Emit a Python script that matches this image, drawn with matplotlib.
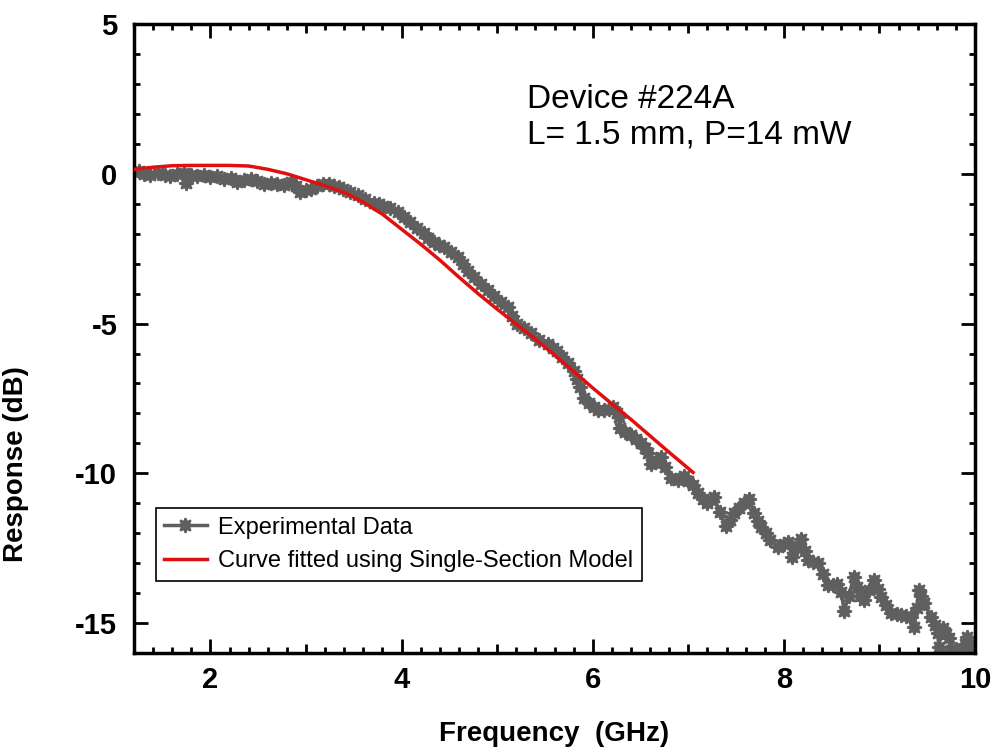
import matplotlib
matplotlib.use("Agg")
import matplotlib.pyplot as plt
from matplotlib.ticker import MultipleLocator, FuncFormatter

plt.rcParams['font.family'] = ['Liberation Sans', 'DejaVu Sans']
plt.rcParams['axes.unicode_minus'] = False

freq_exp = [1.20, 1.25, 1.30, 1.37, 1.45, 1.52, 1.58, 1.65, 1.72, 1.74, 1.80, 1.86,
            1.93, 2.00, 2.07, 2.14, 2.21, 2.28, 2.35, 2.42, 2.49, 2.56, 2.63, 2.70,
            2.77, 2.84, 2.90, 2.94, 3.00, 3.05, 3.12, 3.18, 3.24, 3.29, 3.34, 3.39,
            3.46, 3.54, 3.62, 3.71, 3.76, 3.81, 3.88, 3.96, 4.02, 4.09, 4.16, 4.23,
            4.28, 4.34, 4.39, 4.44, 4.52, 4.59, 4.64, 4.69, 4.76, 4.83, 4.90, 4.97,
            5.04, 5.11, 5.16, 5.21, 5.28, 5.35, 5.44, 5.53, 5.58, 5.63, 5.68, 5.74,
            5.80, 5.84, 5.87, 5.91, 5.96, 6.01, 6.06, 6.12, 6.17, 6.21, 6.25, 6.27,
            6.29, 6.34, 6.40, 6.45, 6.50, 6.55, 6.58, 6.61, 6.66, 6.71, 6.76, 6.82,
            6.89, 6.95, 7.00, 7.05, 7.10, 7.15, 7.20, 7.24, 7.27, 7.33, 7.39, 7.44,
            7.48, 7.53, 7.58, 7.64, 7.69, 7.73, 7.76, 7.81, 7.86, 7.94, 8.00, 8.04,
            8.09, 8.14, 8.18, 8.22, 8.25, 8.31, 8.36, 8.41, 8.46, 8.51, 8.56, 8.60,
            8.63, 8.68, 8.73, 8.77, 8.80, 8.84, 8.89, 8.94, 8.98, 9.02, 9.07, 9.12,
            9.18, 9.23, 9.28, 9.33, 9.36, 9.39, 9.41, 9.44, 9.47, 9.54, 9.58, 9.61,
            9.62, 9.66, 9.70, 9.73, 9.75, 9.80, 9.85, 9.89, 9.92, 9.95, 9.98]
resp_exp = [0.05, 0.10, 0.00, -0.03, 0.02, -0.05, -0.07, -0.02, 0.02, -0.30, -0.05, -0.07,
            -0.05, -0.12, -0.08, -0.18, -0.15, -0.29, -0.22, -0.18, -0.25, -0.34, -0.30, -0.34,
            -0.36, -0.29, -0.40, -0.62, -0.55, -0.50, -0.40, -0.34, -0.33, -0.40, -0.45, -0.50,
            -0.60, -0.70, -0.85, -0.96, -1.02, -1.07, -1.15, -1.29, -1.45, -1.62, -1.80, -1.96,
            -2.15, -2.29, -2.38, -2.46, -2.62, -2.79, -3.02, -3.23, -3.45, -3.67, -3.87, -4.07,
            -4.27, -4.46, -4.75, -5.00, -5.15, -5.33, -5.55, -5.67, -5.80, -5.90, -6.10, -6.33,
            -6.57, -6.85, -7.12, -7.50, -7.65, -7.79, -7.88, -7.90, -7.85, -7.79, -8.00, -8.12,
            -8.50, -8.62, -8.73, -8.85, -9.00, -9.15, -9.33, -9.70, -9.60, -9.46, -9.80, -10.15,
            -10.23, -10.10, -10.25, -10.40, -10.65, -10.85, -11.00, -10.88, -10.80, -11.30, -11.75, -11.55,
            -11.34, -11.15, -11.00, -10.85, -11.34, -11.60, -11.79, -12.00, -12.23, -12.46, -12.35, -12.29,
            -12.79, -12.50, -12.18, -12.60, -12.90, -12.95, -13.00, -13.35, -13.73, -13.72, -13.68, -13.95,
            -14.60, -14.10, -13.46, -13.80, -14.10, -14.23, -13.90, -13.57, -13.85, -14.12, -14.40, -14.68,
            -14.70, -14.73, -14.76, -14.79, -15.12, -14.50, -13.90, -14.10, -14.34, -14.79, -15.05, -15.34,
            -15.79, -15.18, -15.35, -15.51, -15.90, -15.85, -15.90, -15.70, -15.46, -15.70, -15.90]

# single-section model fit
freq_fit = [1.2, 1.4, 1.6, 1.8, 2.0, 2.2, 2.4, 2.6, 2.8, 3.0, 3.2, 3.4, 3.6, 3.8, 4.0,
            4.2, 4.4, 4.6, 4.8, 5.0, 5.2, 5.4, 5.6, 5.8, 6.0, 6.2, 6.4, 6.6, 6.8, 7.05]
resp_fit = [0.15, 0.22, 0.27, 0.28, 0.28, 0.28, 0.26, 0.15, 0.00, -0.20, -0.40, -0.62,
            -0.95, -1.35, -1.85, -2.35, -2.88, -3.45, -4.00, -4.52, -5.02, -5.52, -6.05,
            -6.60, -7.15, -7.68, -8.20, -8.75, -9.30, -9.97]

fig = plt.figure(figsize=(9.94, 7.56), dpi=100)
ax = fig.add_axes([0.1348, 0.1362, 0.8461, 0.832])

ax.plot(freq_exp, resp_exp, color='#5f5f5f', lw=2.5, marker=(8, 1, 0), ms=10.5,
        mew=1.5, label='Experimental Data', zorder=2)
ax.plot(freq_fit, resp_fit, color='#e01010', lw=2.5, label='Curve fitted using Single-Section Model',
        zorder=3)

ax.set_xlim(1.2, 10)
ax.set_ylim(-16, 5)

ax.xaxis.set_major_locator(MultipleLocator(1))
ax.xaxis.set_minor_locator(MultipleLocator(0.2))
ax.xaxis.set_major_formatter(FuncFormatter(lambda v, p: '%d' % v if round(v) % 2 == 0 else ''))
ax.yaxis.set_major_locator(MultipleLocator(5))
ax.yaxis.set_minor_locator(MultipleLocator(1))

ax.tick_params(which='both', direction='in', top=True, right=True, width=2, colors='black')
ax.tick_params(which='major', length=10, labelsize=21, pad=9)
ax.tick_params(axis='y', which='major', pad=12)
ax.tick_params(which='minor', length=4.5)
for lab in ax.get_xticklabels() + ax.get_yticklabels():
    lab.set_fontweight('bold')
# odd integers get a medium tick
for t in ax.xaxis.get_major_ticks():
    if round(t.get_loc()) % 2 == 1:
        t.tick1line.set_markersize(6.5)
        t.tick2line.set_markersize(6.5)

for s in ax.spines.values():
    s.set_linewidth(2.5)

ax.set_xlabel('Frequency  (GHz)', fontsize=20, fontweight='bold', labelpad=20)
ax.set_ylabel('Response (dB)', fontsize=20, fontweight='bold')
ax.yaxis.set_label_coords(-0.125, 0.3)

ax.text(0.467, 0.905, 'Device #224A\nL= 1.5 mm, P=14 mW', transform=ax.transAxes,
        fontsize=24, va='top', ha='left', linespacing=1.2)

leg = ax.legend(loc='lower left', bbox_to_anchor=(0.026, 0.115), fontsize=17, numpoints=1,
                frameon=True, fancybox=False, framealpha=1, edgecolor='black',
                handlelength=1.8, borderpad=0.35, labelspacing=0.5, handletextpad=0.5,
                borderaxespad=0)
leg.get_frame().set_linewidth(1.2)

fig.savefig('out.png', dpi=100)
